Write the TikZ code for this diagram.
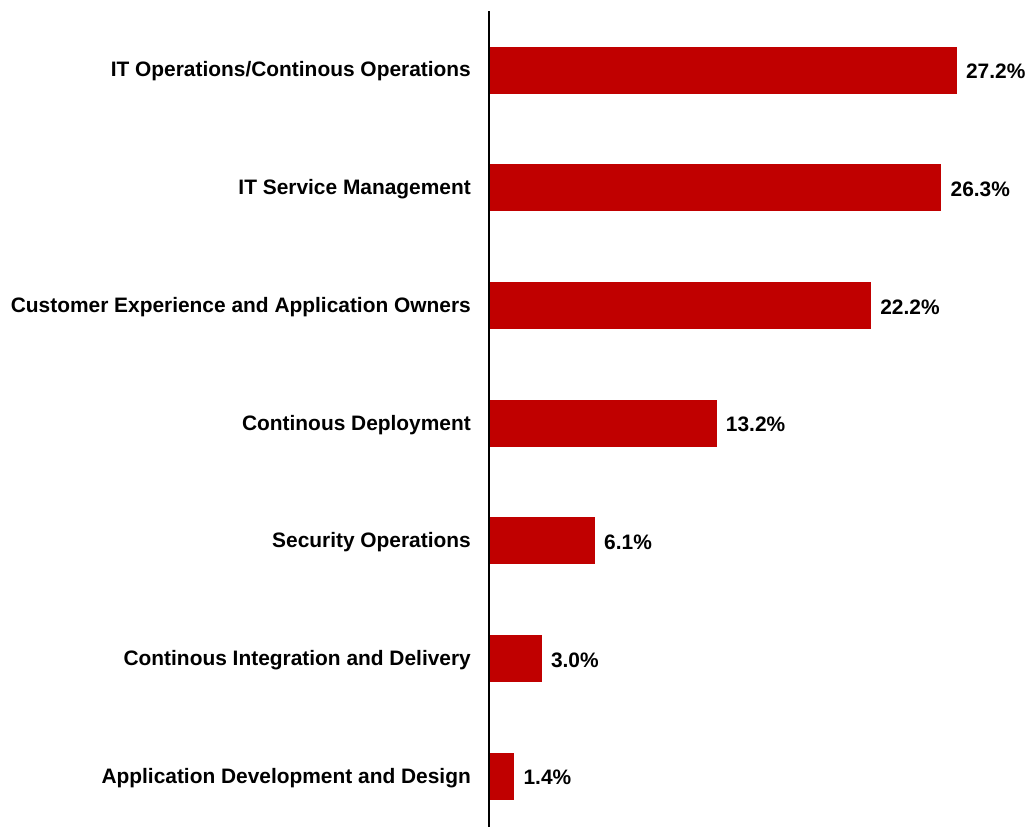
\documentclass[tikz,border=0pt]{standalone}
\usepackage{fontspec}
\setmainfont{Liberation Sans}
\usepackage{tikz}
\usetikzlibrary{positioning}
\definecolor{barred}{HTML}{C00000}

\begin{document}
\begin{tikzpicture}[x=1pt,y=1pt,font=\bfseries\fontsize{20.9}{24}\selectfont]
    \tikzstyle{bar}=[fill=barred, draw=none, minimum height=47pt, inner sep=0pt, anchor=west]
    \tikzstyle{cat}=[anchor=east, inner sep=0pt, yshift=-1.5pt]
    \tikzstyle{val}=[anchor=west, inner sep=0pt, yshift=-1.5pt]
    \useasboundingbox (0,0) rectangle (1032,-827);
	\coordinate (axtop) at (489, -11);
	\coordinate (axbot) at (489, -827);

	\foreach \v/\t [count=\i] in {27.2/{IT Operations/Continous Operations},
	    26.3/{IT Service Management},
	    22.2/{Customer Experience and Application Owners},
	    13.2/{Continous Deployment},
	    6.1/{Security Operations},
	    3.0/{Continous Integration and Delivery},
	    1.4/{Application Development and Design}}
	{
	    \pgfmathsetmacro{\y}{-70-(\i-1)*117.7}
	    \node[cat] (cat\i) at (471, \y) {\t};
	    \node[bar, minimum width=\v*17.15pt] (bar\i) at (490, \y) {};
	    \node[val, right=9pt of bar\i] (val\i) {\v\%};
	}

	\draw [line width=2pt] (axtop) -- (axbot);
\end{tikzpicture}
\end{document}
